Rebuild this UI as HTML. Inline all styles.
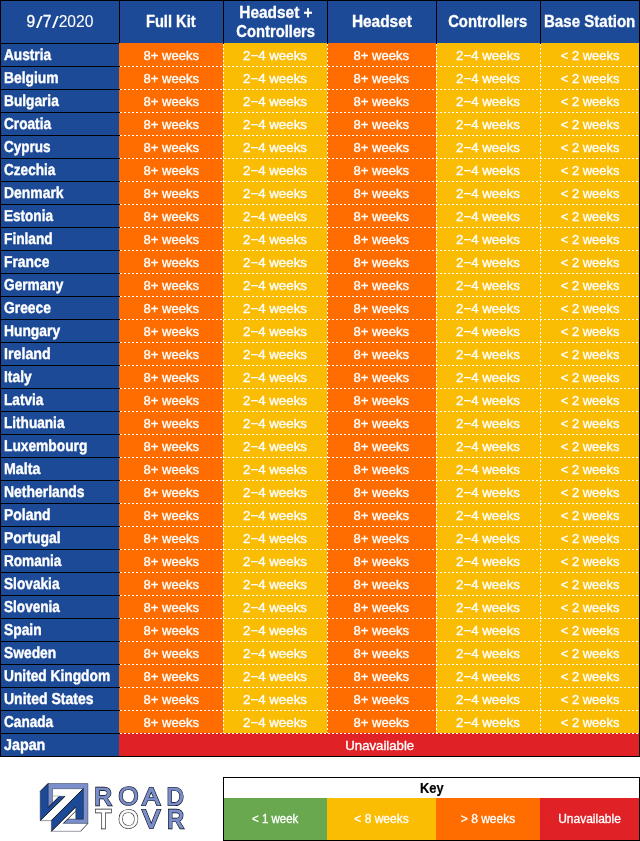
<!DOCTYPE html>
<html lang="en"><head><meta charset="utf-8"><title>Valve Index availability 9/7/2020</title>
<style>
html,body{margin:0;padding:0;background:#fff;}
body{width:640px;height:841px;position:relative;overflow:hidden;font-family:"Liberation Sans",sans-serif;color:#fff;}
div{position:absolute;box-sizing:border-box;white-space:nowrap;}
.bg{left:0;top:0;}
.h{top:0;height:43px;background:#1c4a96;border-top:1px solid #000;border-left:1px solid #000;text-align:center;font-weight:bold;font-size:16.4px;line-height:19px;}
.h span{display:inline-block;transform:scaleX(.935);-webkit-text-stroke:.3px #fff}
.c{left:0;width:119px;height:23px;font-weight:bold;font-size:15.8px;line-height:23px;text-rendering:geometricPrecision;}
.c span{display:inline-block;transform-origin:0 76%;position:relative;left:3.6px;top:.6px;-webkit-text-stroke:.38px #fff}
.d{height:23px;text-align:center;font-size:13.3px;line-height:23px;}
.d span{display:inline-block;position:relative;top:1.1px;-webkit-text-stroke:.35px #fff}
.d .a{transform:scaleX(.98)}
.d .e{transform:scaleX(.973)}
.d .u{transform:scaleX(.99)}
.k{top:798px;height:42px;text-align:center;font-size:12px;line-height:43px;}
.k span{display:inline-block;position:relative;top:-.5px;-webkit-text-stroke:.3px #fff}
</style></head>
<body>
<div class="bg" style="left:0;top:0;width:119px;height:757px;background:#1c4a96"></div>
<div class="bg" style="left:119px;top:43px;width:104px;height:690px;background:#ff6d01"></div>
<div class="bg" style="left:223px;top:43px;width:104px;height:690px;background:#fbbc04"></div>
<div class="bg" style="left:327px;top:43px;width:109px;height:690px;background:#ff6d01"></div>
<div class="bg" style="left:436px;top:43px;width:104px;height:690px;background:#fbbc04"></div>
<div class="bg" style="left:540px;top:43px;width:100px;height:690px;background:#fbbc04"></div>
<div class="bg" style="left:119px;top:733px;width:521px;height:23px;background:#e02227"></div>
<div class="h" style="left:0px;width:119px;padding-top:11.2px;"><span style="transform:none;font-weight:normal;font-size:15.6px;-webkit-text-stroke:.05px #fff"><span style="transform:none;letter-spacing:1.5px">9<span style="transform:scale(1.55,1.1);transform-origin:35% 40%;-webkit-text-stroke:0">/</span>7<span style="transform:scale(1.55,1.1);transform-origin:35% 40%;-webkit-text-stroke:0">/</span></span>2020</span></div>
<div class="h" style="left:119px;width:104px;padding-top:11.2px;"><span style="transform:scaleX(0.895);position:relative;left:-.6px">Full Kit</span></div>
<div class="h" style="left:223px;width:104px;padding-top:2.1px;"><span style="transform:scaleX(0.94)">Headset +</span><br><span style="transform:scaleX(0.9)">Controllers</span></div>
<div class="h" style="left:327px;width:109px;padding-top:11.2px;"><span style="transform:scaleX(0.94);position:relative;left:-.6px">Headset</span></div>
<div class="h" style="left:436px;width:104px;padding-top:11.2px;"><span style="transform:scaleX(0.905);position:relative;left:-.6px">Controllers</span></div>
<div class="h" style="left:540px;width:100px;padding-top:11.2px;border-right:1px solid #000;"><span style="transform:scaleX(0.92);position:relative;left:-.6px">Base Station</span></div>
<div class="c" style="top:43px"><span style="transform:scale(0.864,1)">Austria</span></div>
<div class="d" style="left:119px;top:43px;width:104px"><span class="a">8+ weeks</span></div>
<div class="d" style="left:223px;top:43px;width:104px"><span class="b">2−4 weeks</span></div>
<div class="d" style="left:327px;top:43px;width:109px"><span class="a">8+ weeks</span></div>
<div class="d" style="left:436px;top:43px;width:104px"><span class="b">2−4 weeks</span></div>
<div class="d" style="left:540px;top:43px;width:100px"><span class="e">&lt; 2 weeks</span></div>
<div class="c" style="top:66px"><span style="transform:scale(0.875,1)">Belgium</span></div>
<div class="d" style="left:119px;top:66px;width:104px"><span class="a">8+ weeks</span></div>
<div class="d" style="left:223px;top:66px;width:104px"><span class="b">2−4 weeks</span></div>
<div class="d" style="left:327px;top:66px;width:109px"><span class="a">8+ weeks</span></div>
<div class="d" style="left:436px;top:66px;width:104px"><span class="b">2−4 weeks</span></div>
<div class="d" style="left:540px;top:66px;width:100px"><span class="e">&lt; 2 weeks</span></div>
<div class="c" style="top:89px"><span style="transform:scale(0.866,1)">Bulgaria</span></div>
<div class="d" style="left:119px;top:89px;width:104px"><span class="a">8+ weeks</span></div>
<div class="d" style="left:223px;top:89px;width:104px"><span class="b">2−4 weeks</span></div>
<div class="d" style="left:327px;top:89px;width:109px"><span class="a">8+ weeks</span></div>
<div class="d" style="left:436px;top:89px;width:104px"><span class="b">2−4 weeks</span></div>
<div class="d" style="left:540px;top:89px;width:100px"><span class="e">&lt; 2 weeks</span></div>
<div class="c" style="top:112px"><span style="transform:scale(0.864,1)">Croatia</span></div>
<div class="d" style="left:119px;top:112px;width:104px"><span class="a">8+ weeks</span></div>
<div class="d" style="left:223px;top:112px;width:104px"><span class="b">2−4 weeks</span></div>
<div class="d" style="left:327px;top:112px;width:109px"><span class="a">8+ weeks</span></div>
<div class="d" style="left:436px;top:112px;width:104px"><span class="b">2−4 weeks</span></div>
<div class="d" style="left:540px;top:112px;width:100px"><span class="e">&lt; 2 weeks</span></div>
<div class="c" style="top:135px"><span style="transform:scale(0.857,1)">Cyprus</span></div>
<div class="d" style="left:119px;top:135px;width:104px"><span class="a">8+ weeks</span></div>
<div class="d" style="left:223px;top:135px;width:104px"><span class="b">2−4 weeks</span></div>
<div class="d" style="left:327px;top:135px;width:109px"><span class="a">8+ weeks</span></div>
<div class="d" style="left:436px;top:135px;width:104px"><span class="b">2−4 weeks</span></div>
<div class="d" style="left:540px;top:135px;width:100px"><span class="e">&lt; 2 weeks</span></div>
<div class="c" style="top:158px"><span style="transform:scale(0.859,1)">Czechia</span></div>
<div class="d" style="left:119px;top:158px;width:104px"><span class="a">8+ weeks</span></div>
<div class="d" style="left:223px;top:158px;width:104px"><span class="b">2−4 weeks</span></div>
<div class="d" style="left:327px;top:158px;width:109px"><span class="a">8+ weeks</span></div>
<div class="d" style="left:436px;top:158px;width:104px"><span class="b">2−4 weeks</span></div>
<div class="d" style="left:540px;top:158px;width:100px"><span class="e">&lt; 2 weeks</span></div>
<div class="c" style="top:181px"><span style="transform:scale(0.881,1)">Denmark</span></div>
<div class="d" style="left:119px;top:181px;width:104px"><span class="a">8+ weeks</span></div>
<div class="d" style="left:223px;top:181px;width:104px"><span class="b">2−4 weeks</span></div>
<div class="d" style="left:327px;top:181px;width:109px"><span class="a">8+ weeks</span></div>
<div class="d" style="left:436px;top:181px;width:104px"><span class="b">2−4 weeks</span></div>
<div class="d" style="left:540px;top:181px;width:100px"><span class="e">&lt; 2 weeks</span></div>
<div class="c" style="top:204px"><span style="transform:scale(0.858,1)">Estonia</span></div>
<div class="d" style="left:119px;top:204px;width:104px"><span class="a">8+ weeks</span></div>
<div class="d" style="left:223px;top:204px;width:104px"><span class="b">2−4 weeks</span></div>
<div class="d" style="left:327px;top:204px;width:109px"><span class="a">8+ weeks</span></div>
<div class="d" style="left:436px;top:204px;width:104px"><span class="b">2−4 weeks</span></div>
<div class="d" style="left:540px;top:204px;width:100px"><span class="e">&lt; 2 weeks</span></div>
<div class="c" style="top:227px"><span style="transform:scale(0.868,1)">Finland</span></div>
<div class="d" style="left:119px;top:227px;width:104px"><span class="a">8+ weeks</span></div>
<div class="d" style="left:223px;top:227px;width:104px"><span class="b">2−4 weeks</span></div>
<div class="d" style="left:327px;top:227px;width:109px"><span class="a">8+ weeks</span></div>
<div class="d" style="left:436px;top:227px;width:104px"><span class="b">2−4 weeks</span></div>
<div class="d" style="left:540px;top:227px;width:100px"><span class="e">&lt; 2 weeks</span></div>
<div class="c" style="top:250px"><span style="transform:scale(0.875,1)">France</span></div>
<div class="d" style="left:119px;top:250px;width:104px"><span class="a">8+ weeks</span></div>
<div class="d" style="left:223px;top:250px;width:104px"><span class="b">2−4 weeks</span></div>
<div class="d" style="left:327px;top:250px;width:109px"><span class="a">8+ weeks</span></div>
<div class="d" style="left:436px;top:250px;width:104px"><span class="b">2−4 weeks</span></div>
<div class="d" style="left:540px;top:250px;width:100px"><span class="e">&lt; 2 weeks</span></div>
<div class="c" style="top:273px"><span style="transform:scale(0.866,1)">Germany</span></div>
<div class="d" style="left:119px;top:273px;width:104px"><span class="a">8+ weeks</span></div>
<div class="d" style="left:223px;top:273px;width:104px"><span class="b">2−4 weeks</span></div>
<div class="d" style="left:327px;top:273px;width:109px"><span class="a">8+ weeks</span></div>
<div class="d" style="left:436px;top:273px;width:104px"><span class="b">2−4 weeks</span></div>
<div class="d" style="left:540px;top:273px;width:100px"><span class="e">&lt; 2 weeks</span></div>
<div class="c" style="top:296px"><span style="transform:scale(0.875,1)">Greece</span></div>
<div class="d" style="left:119px;top:296px;width:104px"><span class="a">8+ weeks</span></div>
<div class="d" style="left:223px;top:296px;width:104px"><span class="b">2−4 weeks</span></div>
<div class="d" style="left:327px;top:296px;width:109px"><span class="a">8+ weeks</span></div>
<div class="d" style="left:436px;top:296px;width:104px"><span class="b">2−4 weeks</span></div>
<div class="d" style="left:540px;top:296px;width:100px"><span class="e">&lt; 2 weeks</span></div>
<div class="c" style="top:319px"><span style="transform:scale(0.875,1)">Hungary</span></div>
<div class="d" style="left:119px;top:319px;width:104px"><span class="a">8+ weeks</span></div>
<div class="d" style="left:223px;top:319px;width:104px"><span class="b">2−4 weeks</span></div>
<div class="d" style="left:327px;top:319px;width:109px"><span class="a">8+ weeks</span></div>
<div class="d" style="left:436px;top:319px;width:104px"><span class="b">2−4 weeks</span></div>
<div class="d" style="left:540px;top:319px;width:100px"><span class="e">&lt; 2 weeks</span></div>
<div class="c" style="top:342px"><span style="transform:scale(0.902,1)">Ireland</span></div>
<div class="d" style="left:119px;top:342px;width:104px"><span class="a">8+ weeks</span></div>
<div class="d" style="left:223px;top:342px;width:104px"><span class="b">2−4 weeks</span></div>
<div class="d" style="left:327px;top:342px;width:109px"><span class="a">8+ weeks</span></div>
<div class="d" style="left:436px;top:342px;width:104px"><span class="b">2−4 weeks</span></div>
<div class="d" style="left:540px;top:342px;width:100px"><span class="e">&lt; 2 weeks</span></div>
<div class="c" style="top:365px"><span style="transform:scale(0.875,1)">Italy</span></div>
<div class="d" style="left:119px;top:365px;width:104px"><span class="a">8+ weeks</span></div>
<div class="d" style="left:223px;top:365px;width:104px"><span class="b">2−4 weeks</span></div>
<div class="d" style="left:327px;top:365px;width:109px"><span class="a">8+ weeks</span></div>
<div class="d" style="left:436px;top:365px;width:104px"><span class="b">2−4 weeks</span></div>
<div class="d" style="left:540px;top:365px;width:100px"><span class="e">&lt; 2 weeks</span></div>
<div class="c" style="top:388px"><span style="transform:scale(0.862,1)">Latvia</span></div>
<div class="d" style="left:119px;top:388px;width:104px"><span class="a">8+ weeks</span></div>
<div class="d" style="left:223px;top:388px;width:104px"><span class="b">2−4 weeks</span></div>
<div class="d" style="left:327px;top:388px;width:109px"><span class="a">8+ weeks</span></div>
<div class="d" style="left:436px;top:388px;width:104px"><span class="b">2−4 weeks</span></div>
<div class="d" style="left:540px;top:388px;width:100px"><span class="e">&lt; 2 weeks</span></div>
<div class="c" style="top:411px"><span style="transform:scale(0.861,1)">Lithuania</span></div>
<div class="d" style="left:119px;top:411px;width:104px"><span class="a">8+ weeks</span></div>
<div class="d" style="left:223px;top:411px;width:104px"><span class="b">2−4 weeks</span></div>
<div class="d" style="left:327px;top:411px;width:109px"><span class="a">8+ weeks</span></div>
<div class="d" style="left:436px;top:411px;width:104px"><span class="b">2−4 weeks</span></div>
<div class="d" style="left:540px;top:411px;width:100px"><span class="e">&lt; 2 weeks</span></div>
<div class="c" style="top:434px"><span style="transform:scale(0.871,1)">Luxembourg</span></div>
<div class="d" style="left:119px;top:434px;width:104px"><span class="a">8+ weeks</span></div>
<div class="d" style="left:223px;top:434px;width:104px"><span class="b">2−4 weeks</span></div>
<div class="d" style="left:327px;top:434px;width:109px"><span class="a">8+ weeks</span></div>
<div class="d" style="left:436px;top:434px;width:104px"><span class="b">2−4 weeks</span></div>
<div class="d" style="left:540px;top:434px;width:100px"><span class="e">&lt; 2 weeks</span></div>
<div class="c" style="top:457px"><span style="transform:scale(0.899,1)">Malta</span></div>
<div class="d" style="left:119px;top:457px;width:104px"><span class="a">8+ weeks</span></div>
<div class="d" style="left:223px;top:457px;width:104px"><span class="b">2−4 weeks</span></div>
<div class="d" style="left:327px;top:457px;width:109px"><span class="a">8+ weeks</span></div>
<div class="d" style="left:436px;top:457px;width:104px"><span class="b">2−4 weeks</span></div>
<div class="d" style="left:540px;top:457px;width:100px"><span class="e">&lt; 2 weeks</span></div>
<div class="c" style="top:480px"><span style="transform:scale(0.882,1)">Netherlands</span></div>
<div class="d" style="left:119px;top:480px;width:104px"><span class="a">8+ weeks</span></div>
<div class="d" style="left:223px;top:480px;width:104px"><span class="b">2−4 weeks</span></div>
<div class="d" style="left:327px;top:480px;width:109px"><span class="a">8+ weeks</span></div>
<div class="d" style="left:436px;top:480px;width:104px"><span class="b">2−4 weeks</span></div>
<div class="d" style="left:540px;top:480px;width:100px"><span class="e">&lt; 2 weeks</span></div>
<div class="c" style="top:503px"><span style="transform:scale(0.883,1)">Poland</span></div>
<div class="d" style="left:119px;top:503px;width:104px"><span class="a">8+ weeks</span></div>
<div class="d" style="left:223px;top:503px;width:104px"><span class="b">2−4 weeks</span></div>
<div class="d" style="left:327px;top:503px;width:109px"><span class="a">8+ weeks</span></div>
<div class="d" style="left:436px;top:503px;width:104px"><span class="b">2−4 weeks</span></div>
<div class="d" style="left:540px;top:503px;width:100px"><span class="e">&lt; 2 weeks</span></div>
<div class="c" style="top:526px"><span style="transform:scale(0.885,1)">Portugal</span></div>
<div class="d" style="left:119px;top:526px;width:104px"><span class="a">8+ weeks</span></div>
<div class="d" style="left:223px;top:526px;width:104px"><span class="b">2−4 weeks</span></div>
<div class="d" style="left:327px;top:526px;width:109px"><span class="a">8+ weeks</span></div>
<div class="d" style="left:436px;top:526px;width:104px"><span class="b">2−4 weeks</span></div>
<div class="d" style="left:540px;top:526px;width:100px"><span class="e">&lt; 2 weeks</span></div>
<div class="c" style="top:549px"><span style="transform:scale(0.860,1)">Romania</span></div>
<div class="d" style="left:119px;top:549px;width:104px"><span class="a">8+ weeks</span></div>
<div class="d" style="left:223px;top:549px;width:104px"><span class="b">2−4 weeks</span></div>
<div class="d" style="left:327px;top:549px;width:109px"><span class="a">8+ weeks</span></div>
<div class="d" style="left:436px;top:549px;width:104px"><span class="b">2−4 weeks</span></div>
<div class="d" style="left:540px;top:549px;width:100px"><span class="e">&lt; 2 weeks</span></div>
<div class="c" style="top:572px"><span style="transform:scale(0.866,1)">Slovakia</span></div>
<div class="d" style="left:119px;top:572px;width:104px"><span class="a">8+ weeks</span></div>
<div class="d" style="left:223px;top:572px;width:104px"><span class="b">2−4 weeks</span></div>
<div class="d" style="left:327px;top:572px;width:109px"><span class="a">8+ weeks</span></div>
<div class="d" style="left:436px;top:572px;width:104px"><span class="b">2−4 weeks</span></div>
<div class="d" style="left:540px;top:572px;width:100px"><span class="e">&lt; 2 weeks</span></div>
<div class="c" style="top:595px"><span style="transform:scale(0.860,1)">Slovenia</span></div>
<div class="d" style="left:119px;top:595px;width:104px"><span class="a">8+ weeks</span></div>
<div class="d" style="left:223px;top:595px;width:104px"><span class="b">2−4 weeks</span></div>
<div class="d" style="left:327px;top:595px;width:109px"><span class="a">8+ weeks</span></div>
<div class="d" style="left:436px;top:595px;width:104px"><span class="b">2−4 weeks</span></div>
<div class="d" style="left:540px;top:595px;width:100px"><span class="e">&lt; 2 weeks</span></div>
<div class="c" style="top:618px"><span style="transform:scale(0.875,1)">Spain</span></div>
<div class="d" style="left:119px;top:618px;width:104px"><span class="a">8+ weeks</span></div>
<div class="d" style="left:223px;top:618px;width:104px"><span class="b">2−4 weeks</span></div>
<div class="d" style="left:327px;top:618px;width:109px"><span class="a">8+ weeks</span></div>
<div class="d" style="left:436px;top:618px;width:104px"><span class="b">2−4 weeks</span></div>
<div class="d" style="left:540px;top:618px;width:100px"><span class="e">&lt; 2 weeks</span></div>
<div class="c" style="top:641px"><span style="transform:scale(0.875,1)">Sweden</span></div>
<div class="d" style="left:119px;top:641px;width:104px"><span class="a">8+ weeks</span></div>
<div class="d" style="left:223px;top:641px;width:104px"><span class="b">2−4 weeks</span></div>
<div class="d" style="left:327px;top:641px;width:109px"><span class="a">8+ weeks</span></div>
<div class="d" style="left:436px;top:641px;width:104px"><span class="b">2−4 weeks</span></div>
<div class="d" style="left:540px;top:641px;width:100px"><span class="e">&lt; 2 weeks</span></div>
<div class="c" style="top:664px"><span style="transform:scale(0.870,1)">United Kingdom</span></div>
<div class="d" style="left:119px;top:664px;width:104px"><span class="a">8+ weeks</span></div>
<div class="d" style="left:223px;top:664px;width:104px"><span class="b">2−4 weeks</span></div>
<div class="d" style="left:327px;top:664px;width:109px"><span class="a">8+ weeks</span></div>
<div class="d" style="left:436px;top:664px;width:104px"><span class="b">2−4 weeks</span></div>
<div class="d" style="left:540px;top:664px;width:100px"><span class="e">&lt; 2 weeks</span></div>
<div class="c" style="top:687px"><span style="transform:scale(0.887,1)">United States</span></div>
<div class="d" style="left:119px;top:687px;width:104px"><span class="a">8+ weeks</span></div>
<div class="d" style="left:223px;top:687px;width:104px"><span class="b">2−4 weeks</span></div>
<div class="d" style="left:327px;top:687px;width:109px"><span class="a">8+ weeks</span></div>
<div class="d" style="left:436px;top:687px;width:104px"><span class="b">2−4 weeks</span></div>
<div class="d" style="left:540px;top:687px;width:100px"><span class="e">&lt; 2 weeks</span></div>
<div class="c" style="top:710px"><span style="transform:scale(0.861,1)">Canada</span></div>
<div class="d" style="left:119px;top:710px;width:104px"><span class="a">8+ weeks</span></div>
<div class="d" style="left:223px;top:710px;width:104px"><span class="b">2−4 weeks</span></div>
<div class="d" style="left:327px;top:710px;width:109px"><span class="a">8+ weeks</span></div>
<div class="d" style="left:436px;top:710px;width:104px"><span class="b">2−4 weeks</span></div>
<div class="d" style="left:540px;top:710px;width:100px"><span class="e">&lt; 2 weeks</span></div>
<div class="c" style="top:733px"><span style="transform:scale(0.906,1)">Japan</span></div>
<div class="d" style="left:119px;top:733px;width:521px"><span class="u">Unavailable</span></div>
<svg style="position:absolute;left:0;top:0" width="640" height="841" viewBox="0 0 640 841" shape-rendering="crispEdges">
<rect x="0" y="43" width="119" height="1" fill="#000"/>
<rect x="0" y="66" width="120" height="1" fill="#000"/>
<rect x="0" y="89" width="120" height="1" fill="#000"/>
<rect x="0" y="112" width="120" height="1" fill="#000"/>
<rect x="0" y="135" width="120" height="1" fill="#000"/>
<rect x="0" y="158" width="120" height="1" fill="#000"/>
<rect x="0" y="181" width="120" height="1" fill="#000"/>
<rect x="0" y="204" width="120" height="1" fill="#000"/>
<rect x="0" y="227" width="120" height="1" fill="#000"/>
<rect x="0" y="250" width="120" height="1" fill="#000"/>
<rect x="0" y="273" width="120" height="1" fill="#000"/>
<rect x="0" y="296" width="120" height="1" fill="#000"/>
<rect x="0" y="319" width="120" height="1" fill="#000"/>
<rect x="0" y="342" width="120" height="1" fill="#000"/>
<rect x="0" y="365" width="120" height="1" fill="#000"/>
<rect x="0" y="388" width="120" height="1" fill="#000"/>
<rect x="0" y="411" width="120" height="1" fill="#000"/>
<rect x="0" y="434" width="120" height="1" fill="#000"/>
<rect x="0" y="457" width="120" height="1" fill="#000"/>
<rect x="0" y="480" width="120" height="1" fill="#000"/>
<rect x="0" y="503" width="120" height="1" fill="#000"/>
<rect x="0" y="526" width="120" height="1" fill="#000"/>
<rect x="0" y="549" width="120" height="1" fill="#000"/>
<rect x="0" y="572" width="120" height="1" fill="#000"/>
<rect x="0" y="595" width="120" height="1" fill="#000"/>
<rect x="0" y="618" width="120" height="1" fill="#000"/>
<rect x="0" y="641" width="120" height="1" fill="#000"/>
<rect x="0" y="664" width="120" height="1" fill="#000"/>
<rect x="0" y="687" width="120" height="1" fill="#000"/>
<rect x="0" y="710" width="120" height="1" fill="#000"/>
<rect x="0" y="733" width="120" height="1" fill="#000"/>
<rect x="0" y="756" width="640" height="1" fill="#000"/>
<rect x="0" y="0" width="1" height="757" fill="#000"/>
<rect x="639" y="0" width="1" height="757" fill="#000"/>
<line x1="120" y1="66.5" x2="639" y2="66.5" stroke="#fff" stroke-width="1" stroke-dasharray="2 2"/>
<line x1="120" y1="89.5" x2="639" y2="89.5" stroke="#fff" stroke-width="1" stroke-dasharray="2 2"/>
<line x1="120" y1="112.5" x2="639" y2="112.5" stroke="#fff" stroke-width="1" stroke-dasharray="2 2"/>
<line x1="120" y1="135.5" x2="639" y2="135.5" stroke="#fff" stroke-width="1" stroke-dasharray="2 2"/>
<line x1="120" y1="158.5" x2="639" y2="158.5" stroke="#fff" stroke-width="1" stroke-dasharray="2 2"/>
<line x1="120" y1="181.5" x2="639" y2="181.5" stroke="#fff" stroke-width="1" stroke-dasharray="2 2"/>
<line x1="120" y1="204.5" x2="639" y2="204.5" stroke="#fff" stroke-width="1" stroke-dasharray="2 2"/>
<line x1="120" y1="227.5" x2="639" y2="227.5" stroke="#fff" stroke-width="1" stroke-dasharray="2 2"/>
<line x1="120" y1="250.5" x2="639" y2="250.5" stroke="#fff" stroke-width="1" stroke-dasharray="2 2"/>
<line x1="120" y1="273.5" x2="639" y2="273.5" stroke="#fff" stroke-width="1" stroke-dasharray="2 2"/>
<line x1="120" y1="296.5" x2="639" y2="296.5" stroke="#fff" stroke-width="1" stroke-dasharray="2 2"/>
<line x1="120" y1="319.5" x2="639" y2="319.5" stroke="#fff" stroke-width="1" stroke-dasharray="2 2"/>
<line x1="120" y1="342.5" x2="639" y2="342.5" stroke="#fff" stroke-width="1" stroke-dasharray="2 2"/>
<line x1="120" y1="365.5" x2="639" y2="365.5" stroke="#fff" stroke-width="1" stroke-dasharray="2 2"/>
<line x1="120" y1="388.5" x2="639" y2="388.5" stroke="#fff" stroke-width="1" stroke-dasharray="2 2"/>
<line x1="120" y1="411.5" x2="639" y2="411.5" stroke="#fff" stroke-width="1" stroke-dasharray="2 2"/>
<line x1="120" y1="434.5" x2="639" y2="434.5" stroke="#fff" stroke-width="1" stroke-dasharray="2 2"/>
<line x1="120" y1="457.5" x2="639" y2="457.5" stroke="#fff" stroke-width="1" stroke-dasharray="2 2"/>
<line x1="120" y1="480.5" x2="639" y2="480.5" stroke="#fff" stroke-width="1" stroke-dasharray="2 2"/>
<line x1="120" y1="503.5" x2="639" y2="503.5" stroke="#fff" stroke-width="1" stroke-dasharray="2 2"/>
<line x1="120" y1="526.5" x2="639" y2="526.5" stroke="#fff" stroke-width="1" stroke-dasharray="2 2"/>
<line x1="120" y1="549.5" x2="639" y2="549.5" stroke="#fff" stroke-width="1" stroke-dasharray="2 2"/>
<line x1="120" y1="572.5" x2="639" y2="572.5" stroke="#fff" stroke-width="1" stroke-dasharray="2 2"/>
<line x1="120" y1="595.5" x2="639" y2="595.5" stroke="#fff" stroke-width="1" stroke-dasharray="2 2"/>
<line x1="120" y1="618.5" x2="639" y2="618.5" stroke="#fff" stroke-width="1" stroke-dasharray="2 2"/>
<line x1="120" y1="641.5" x2="639" y2="641.5" stroke="#fff" stroke-width="1" stroke-dasharray="2 2"/>
<line x1="120" y1="664.5" x2="639" y2="664.5" stroke="#fff" stroke-width="1" stroke-dasharray="2 2"/>
<line x1="120" y1="687.5" x2="639" y2="687.5" stroke="#fff" stroke-width="1" stroke-dasharray="2 2"/>
<line x1="120" y1="710.5" x2="639" y2="710.5" stroke="#fff" stroke-width="1" stroke-dasharray="2 2"/>
<line x1="120" y1="733.5" x2="639" y2="733.5" stroke="#fff" stroke-width="1" stroke-dasharray="2 2"/>
<line x1="223.5" y1="44" x2="223.5" y2="733" stroke="#fff" stroke-width="1" stroke-dasharray="2 2"/>
<line x1="327.5" y1="44" x2="327.5" y2="733" stroke="#fff" stroke-width="1" stroke-dasharray="2 2"/>
<line x1="436.5" y1="44" x2="436.5" y2="733" stroke="#fff" stroke-width="1" stroke-dasharray="2 2"/>
<line x1="540.5" y1="44" x2="540.5" y2="733" stroke="#fff" stroke-width="1" stroke-dasharray="2 2"/>
<rect x="223" y="43" width="1" height="1" fill="#000"/>
<rect x="327" y="43" width="1" height="1" fill="#000"/>
<rect x="436" y="43" width="1" height="1" fill="#000"/>
<rect x="540" y="43" width="1" height="1" fill="#000"/>
</svg>
<div style="left:223px;top:777px;width:417px;height:64px;border:1px solid #000;background:#fff"></div>
<div style="left:224px;top:778px;width:415px;height:20px;text-align:center;color:#000;font-weight:bold;font-size:14px;line-height:20px"><span style="display:inline-block;transform:scaleX(.92);position:relative;top:0px;-webkit-text-stroke:.2px #000">Key</span></div>
<div class="k" style="left:224px;width:103px;background:#6aa84f"><span style="transform:scaleX(.956)">&lt; 1 week</span></div>
<div class="k" style="left:327px;width:109px;background:#fbbc04"><span>&lt; 8 weeks</span></div>
<div class="k" style="left:436px;width:104px;background:#ff6d01"><span>&gt; 8 weeks</span></div>
<div class="k" style="left:540px;width:99px;background:#e02227"><span>Unavailable</span></div>
<svg style="position:absolute;left:0;top:0" width="640" height="841" viewBox="0 0 640 841">
<g stroke="#20263a" stroke-width=".45" stroke-linejoin="miter">
<polygon points="48.1,783.5 87.9,783.5 87.9,823.4 63.4,823.4 67.7,819.1 83.4,819.1 83.4,788.7 52.5,788.7 52.5,803.3 48.1,807.7" fill="#7b8fcb"/>
<polygon points="40.2,791.5 48.1,783.5 48.1,807.7 59.4,796.3 65,796.3 40.2,820.6" fill="#1c4a96"/>
<polygon points="83.4,788.6 83.4,819.1 75.8,819.1 75.8,806.9 51.4,831.3 51.4,820.5" fill="#1c4a96"/>
<polyline points="40.2,820.6 51.4,820.6" fill="none"/>
<polyline points="51.4,831.3 80.6,831.3" fill="none"/>
<polyline points="52.7,796 59.3,796" fill="none" stroke="#999" stroke-width=".7"/>
<polyline points="75.5,808 75.5,819" fill="none" stroke="#888" stroke-width=".5"/>
</g>
<g stroke="#000" stroke-width=".75" fill="none" stroke-linecap="butt">
<path d="M40.2,791.5 L48.1,783.5 M48.1,807.7 L59.4,796.3 M65,796.3 L40.2,820.6 M51.4,820.5 L83.4,788.6 M75.8,806.9 L51.4,831.3 M63.4,823.4 L75.6,811.2 M80.6,831.3 L87.9,823.4"/>
</g>
<g font-family="Liberation Sans, sans-serif" font-size="24.27" stroke-linejoin="miter">
<g aria-label="ROAD"><text transform="translate(94.42 804.75) scale(0.996 1.0)" vector-effect="non-scaling-stroke" fill="#05070f" stroke="#05070f" stroke-width="2.30">R</text><text transform="translate(118.16 805.10) scale(1.080 1.0419161676646707)" vector-effect="non-scaling-stroke" fill="#05070f" stroke="#05070f" stroke-width="1.60">O</text><text transform="translate(142.55 804.80) scale(1.075 1.005988023952096)" vector-effect="non-scaling-stroke" fill="#05070f" stroke="#05070f" stroke-width="2.20">A</text><text transform="translate(166.83 804.85) scale(0.967 1.0119760479041915)" vector-effect="non-scaling-stroke" fill="#05070f" stroke="#05070f" stroke-width="2.10">D</text></g>
<g aria-label="TOVR"><text transform="translate(95.83 827.65) scale(1.035 1.025)" vector-effect="non-scaling-stroke" fill="#05070f" stroke="#05070f" stroke-width="2.30">T</text><text transform="translate(118.16 828.00) scale(1.080 1.0679640718562873)" vector-effect="non-scaling-stroke" fill="#05070f" stroke="#05070f" stroke-width="1.60">O</text><text transform="translate(142.48 827.70) scale(1.083 1.0311377245508981)" vector-effect="non-scaling-stroke" fill="#05070f" stroke="#05070f" stroke-width="2.20">V</text><text transform="translate(167.24 827.65) scale(0.957 1.025)" vector-effect="non-scaling-stroke" fill="#05070f" stroke="#05070f" stroke-width="2.30">R</text></g>
<g aria-label="ROAD"><text transform="translate(94.42 804.75) scale(0.996 1.0)" vector-effect="non-scaling-stroke" fill="#7b8fcb" stroke="#7b8fcb" stroke-width="1.10">R</text><text transform="translate(118.16 805.10) scale(1.080 1.0419161676646707)" vector-effect="non-scaling-stroke" fill="#7b8fcb" stroke="#7b8fcb" stroke-width="0.40">O</text><text transform="translate(142.55 804.80) scale(1.075 1.005988023952096)" vector-effect="non-scaling-stroke" fill="#7b8fcb" stroke="#7b8fcb" stroke-width="1.00">A</text><text transform="translate(166.83 804.85) scale(0.967 1.0119760479041915)" vector-effect="non-scaling-stroke" fill="#7b8fcb" stroke="#7b8fcb" stroke-width="0.90">D</text></g>
<g aria-label="TOVR"><text transform="translate(95.83 827.65) scale(1.035 1.025)" vector-effect="non-scaling-stroke" fill="#fff" stroke="#fff" stroke-width="1.10">T</text><text transform="translate(118.16 828.00) scale(1.080 1.0679640718562873)" vector-effect="non-scaling-stroke" fill="#fff" stroke="#fff" stroke-width="0.40">O</text><text transform="translate(142.48 827.70) scale(1.083 1.0311377245508981)" vector-effect="non-scaling-stroke" fill="#7b8fcb" stroke="#7b8fcb" stroke-width="1.00">V</text><text transform="translate(167.24 827.65) scale(0.957 1.025)" vector-effect="non-scaling-stroke" fill="#7b8fcb" stroke="#7b8fcb" stroke-width="1.10">R</text></g>
</g>
</svg>
</body></html>
